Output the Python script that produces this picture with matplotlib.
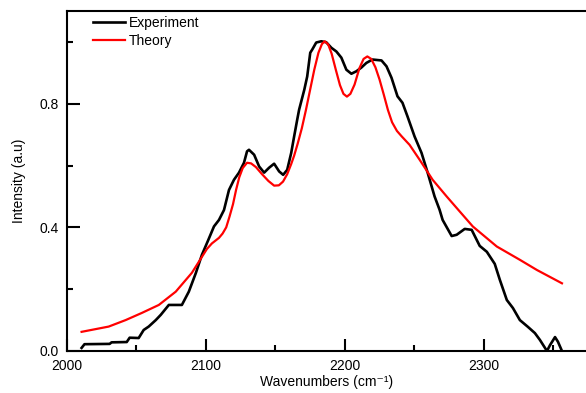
import matplotlib
matplotlib.use("Agg")
import matplotlib.pyplot as plt
from matplotlib.ticker import MultipleLocator

plt.rcParams['font.family'] = ['Liberation Sans', 'DejaVu Sans']

exp_x = [2010.5, 2012.6, 2030.7, 2032.1, 2043.0, 2045.1, 2051.6, 2055.2, 2058.8, 2063.9,
         2067.5, 2073.3, 2082.7, 2087.7, 2092.8, 2097.1, 2101.5, 2105.8, 2109.4, 2113.0,
         2116.6, 2120.2, 2123.8, 2127.4, 2129.6, 2131.0, 2134.7, 2138.3, 2141.9, 2145.5,
         2149.1, 2152.7, 2155.6, 2158.5, 2161.4, 2163.5, 2165.7, 2167.1, 2170.8, 2172.9,
         2175.1, 2176.5, 2179.4, 2183.0, 2186.6, 2190.3, 2193.9, 2197.5, 2201.1, 2204.7,
         2208.3, 2211.9, 2215.5, 2219.9, 2226.4, 2230.0, 2233.6, 2237.9, 2241.5, 2245.1,
         2250.2, 2255.2, 2259.6, 2264.6, 2268.2, 2270.4, 2276.9, 2280.5, 2286.3, 2291.3,
         2297.1, 2302.2, 2307.9, 2311.6, 2316.6, 2321.0, 2326.0, 2331.8, 2336.8, 2340.4,
         2345.5, 2347.7, 2351.3, 2353.4, 2356.3]
exp_y = [0.010, 0.022, 0.023, 0.028, 0.029, 0.043, 0.042, 0.068, 0.079, 0.100,
         0.117, 0.149, 0.149, 0.192, 0.253, 0.311, 0.357, 0.403, 0.424, 0.456,
         0.521, 0.554, 0.577, 0.609, 0.646, 0.651, 0.635, 0.597, 0.577, 0.593,
         0.606, 0.581, 0.570, 0.586, 0.641, 0.694, 0.748, 0.781, 0.845, 0.888,
         0.965, 0.975, 0.998, 1.002, 0.999, 0.981, 0.969, 0.949, 0.910, 0.897,
         0.905, 0.917, 0.932, 0.943, 0.940, 0.921, 0.884, 0.824, 0.803, 0.759,
         0.694, 0.641, 0.577, 0.500, 0.457, 0.424, 0.372, 0.376, 0.395, 0.392,
         0.340, 0.321, 0.282, 0.230, 0.165, 0.139, 0.100, 0.078, 0.058, 0.036,
         0.000, 0.019, 0.045, 0.030, 0.000]

theo_x = [2010.5, 2030.0, 2042.2, 2053.8, 2066.1, 2078.3, 2089.9, 2100.7, 2104.3, 2109.4,
          2112.0, 2114.6, 2117.0, 2119.5, 2121.7, 2124.0, 2126.5, 2129.6, 2132.5, 2136.0,
          2140.4, 2145.0, 2149.1, 2152.5, 2155.5, 2158.5, 2161.4, 2163.5, 2166.0, 2169.0,
          2172.0, 2175.0, 2178.0, 2181.0, 2183.5, 2185.5, 2188.0, 2190.5, 2193.5, 2196.5,
          2199.0, 2201.5, 2204.0, 2207.0, 2210.5, 2213.5, 2216.2, 2219.0, 2222.0, 2225.0,
          2228.0, 2231.0, 2234.0, 2237.5, 2241.0, 2246.6, 2253.8, 2263.2, 2273.3, 2282.0,
          2292.1, 2309.4, 2326.0, 2338.3, 2356.3]
theo_y = [0.062, 0.079, 0.100, 0.123, 0.149, 0.192, 0.253, 0.330, 0.348, 0.366,
          0.380, 0.400, 0.435, 0.475, 0.521, 0.562, 0.592, 0.609, 0.607, 0.595,
          0.572, 0.550, 0.535, 0.536, 0.548, 0.572, 0.605, 0.632, 0.670, 0.720,
          0.780, 0.845, 0.910, 0.965, 0.993, 1.002, 0.992, 0.962, 0.910, 0.860,
          0.832, 0.823, 0.832, 0.862, 0.915, 0.945, 0.953, 0.945, 0.918, 0.878,
          0.830, 0.780, 0.740, 0.712, 0.694, 0.667, 0.619, 0.554, 0.500, 0.455,
          0.403, 0.338, 0.295, 0.262, 0.219]

fig = plt.figure(figsize=(5.86, 3.93), dpi=100)
ax = fig.add_axes([67 / 586, 1 - 351 / 393, 1 - 67 / 586, 340 / 393])

ax.plot(exp_x, exp_y, color='black', lw=1.9, label='Experiment', solid_joinstyle='round')
ax.plot(theo_x, theo_y, color='#ff0000', lw=1.6, label='Theory', solid_joinstyle='round')

ax.set_xlim(2000, 2373.6)
ax.set_ylim(0, 1.1)
ax.spines['right'].set_visible(False)
for s in ['left', 'top', 'bottom']:
    ax.spines[s].set_linewidth(1.5)

ax.xaxis.set_major_locator(MultipleLocator(100))
ax.xaxis.set_minor_locator(MultipleLocator(50))
ax.yaxis.set_major_locator(MultipleLocator(0.4))
ax.yaxis.set_minor_locator(MultipleLocator(0.2))
ax.yaxis.set_major_formatter(plt.FormatStrFormatter('%.1f'))
ax.tick_params(axis='x', which='major', direction='in', length=9, width=1.5, labelsize=10, pad=6)
ax.tick_params(axis='y', which='major', direction='in', length=9, width=1.5, labelsize=10, pad=6)
ax.tick_params(which='minor', direction='in', length=4.5, width=1.5)
ax.tick_params(top=False, right=False, which='both')

ax.set_xlabel('Wavenumbers (cm\u207b\u00b9)', fontsize=10, labelpad=1)
ax.set_ylabel('Intensity (a.u)', fontsize=10, labelpad=10)

ax.legend(loc='upper left', bbox_to_anchor=(0.05, 0.985), frameon=False, fontsize=10,
          handlelength=2.3, handletextpad=0.3, labelspacing=0.25, borderpad=0, borderaxespad=0)

fig.savefig('out.png', dpi=100)
